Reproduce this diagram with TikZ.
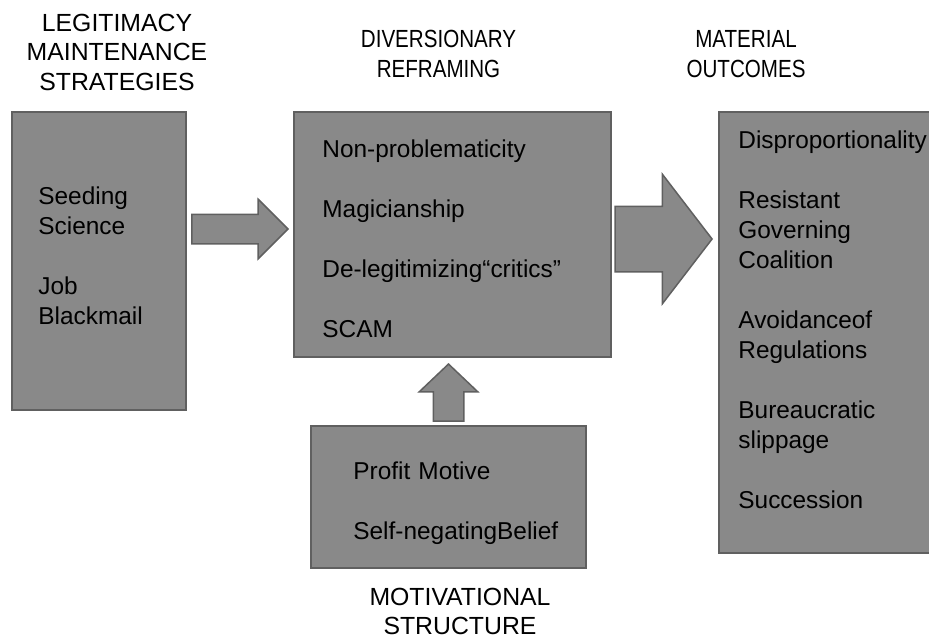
\documentclass[tikz,border=0pt]{standalone}
\usepackage{fontspec}
\setmainfont{Liberation Sans}
\newfontfamily\narrowsf[FakeStretch=0.83]{Liberation Sans}
\usepackage{xcolor}
\usepackage{tikz}
\usetikzlibrary{positioning,calc,shapes.arrows}
\definecolor{boxgray}{RGB}{137,137,137}
\definecolor{edgegray}{RGB}{96,96,96}
\tikzset{
  panel/.style      ={draw=edgegray, line width=0.75pt, fill=boxgray, rectangle, inner sep=0pt},
  items/.style      ={anchor=base west, align=left, inner sep=0pt, text width=130pt, font=\fontsize{12.2}{15}\selectfont},
  head/.style       ={anchor=base, align=center, inner sep=0pt, text width=150pt, font=\fontsize{12.4}{14.75}\selectfont},
  narrowhead/.style ={head, font=\narrowsf\fontsize{12.4}{15}\selectfont},
  flow/.style       ={draw=edgegray, line width=0.75pt, fill=boxgray, single arrow, single arrow head indent=0pt, inner xsep=0pt, anchor=tip},
}

\begin{document}
\begin{tikzpicture}[x=0.5pt, y=-0.5pt]
    \useasboundingbox (0,0) rectangle (929,637);
    \clip (0,0) rectangle (929,637);

    % column headings
    \node[head]       (lmshead) at (117,31)  {LEGITIMACY\\MAINTENANCE\\STRATEGIES};
    \node[narrowhead] (divhead) at (438.5,47) {DIVERSIONARY\\REFRAMING};
    \node[narrowhead] (outhead) at (746,47)  {MATERIAL\\OUTCOMES};
    \node[head]       (mothead) at (460,605) {MOTIVATIONAL\\STRUCTURE};

    % boxes
    \node[panel, minimum width=87pt,    minimum height=149pt]   (lms) at (99,261)      {};
    \node[panel, minimum width=158.5pt, minimum height=122.5pt] (div) at (452.5,234.5) {};
    \node[panel, minimum width=110.5pt, minimum height=220.5pt] (out) at (829.5,332.5) {};
    \node[panel, minimum width=137.5pt, minimum height=71pt]    (mot) at (448.5,497)   {};

    % box contents
    \node[items] (lmsitems) at (38,204)  {Seeding\\Science\\[15pt]Job\\Blackmail};
    \node[items] (divitems) at (322,157) {Non-problematicity\\[15pt]Magicianship\\[15pt]De-legitimizing“critics”\\[15pt]SCAM};
    \node[items] (outitems) at (738,148) {Disproportionality\\[15pt]Resistant\\Governing\\Coalition\\[15pt]Avoidanceof\\Regulations\\[15pt]Bureaucratic\\slippage\\[15pt]Succession};
    \node[items] (motitems) at (353,479) {Profit Motive\\[15pt]Self-negatingBelief};

    % block arrows
    \node[flow, minimum height=48pt,   inner ysep=7pt,    single arrow head extend=7.5pt, single arrow tip angle=90]  (lmstodiv) at (289,229)   {};
    \node[flow, minimum height=48.5pt, inner ysep=16pt,   single arrow head extend=16pt,  single arrow tip angle=105] (divtoout) at (713,239)   {};
    \node[flow, minimum height=28.5pt, inner ysep=7.25pt, single arrow head extend=7pt,   single arrow tip angle=93, rotate=90] (mottodiv) at (448.5,363) {};
\end{tikzpicture}
\end{document}
